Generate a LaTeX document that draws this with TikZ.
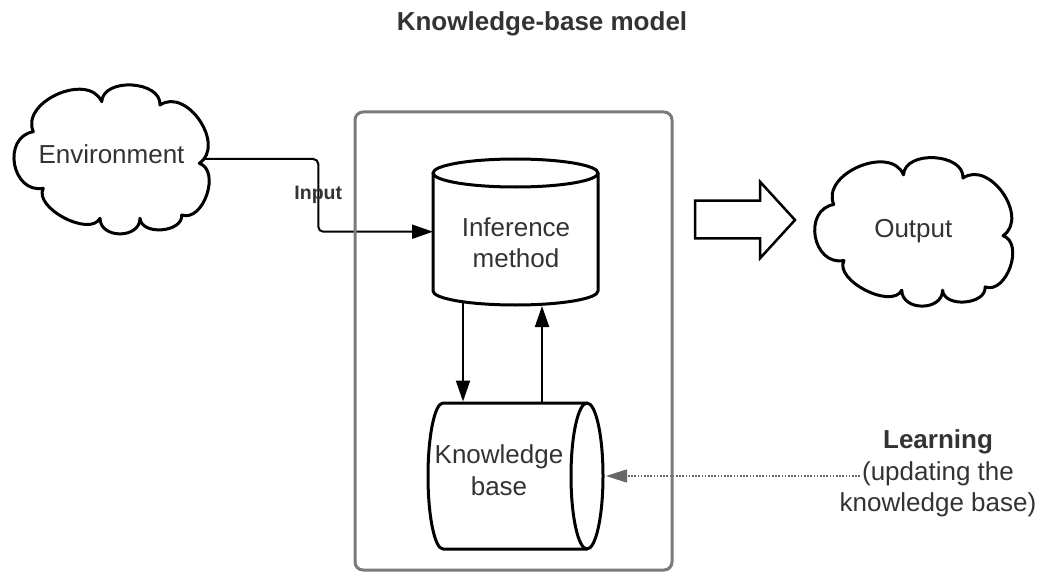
\documentclass[tikz,border=0pt]{standalone}
\usepackage{fontspec}
\setmainfont{Liberation Sans}
\usetikzlibrary{arrows.meta,calc}

\definecolor{inktext}{HTML}{333333}
\definecolor{framegray}{HTML}{7A7A7A}
\definecolor{learngray}{HTML}{666666}

% Cloud outline: #1 name prefix, (#2,#3) centre, #4/#5 horizontal/vertical scale.
% Eight cusps joined by outward bulging puffs.
\newcommand\cloudoutline[5]{%
  \coordinate (#1-1) at ({#2+#4*(-78.2)},{#3+#5*(-27.3)});
  \coordinate (#1-2) at ({#2+#4*(-68.2)},{#3+#5*(29.3)});
  \coordinate (#1-3) at ({#2+#4*(-11.5)},{#3+#5*(59.3)});
  \coordinate (#1-4) at ({#2+#4*(28.5)},{#3+#5*(59.3)});
  \coordinate (#1-5) at ({#2+#4*(70.2)},{#3+#5*(56)});
  \coordinate (#1-6) at ({#2+#4*(87.8)},{#3+#5*(4.3)});
  \coordinate (#1-7) at ({#2+#4*(48.5)},{#3+#5*(-54)});
  \coordinate (#1-8) at ({#2+#4*(-9.8)},{#3+#5*(-57.3)});
  \draw[outline] (#1-1)
    .. controls ($(#1-1)!0.56!-90:(#1-2)$) and ($(#1-2)!0.56!90:(#1-1)$) .. (#1-2)
    .. controls ($(#1-2)!0.34!-90:(#1-3)$) and ($(#1-3)!0.34!90:(#1-2)$) .. (#1-3)
    .. controls ($(#1-3)!0.52!-90:(#1-4)$) and ($(#1-4)!0.52!90:(#1-3)$) .. (#1-4)
    .. controls ($(#1-4)!0.42!-90:(#1-5)$) and ($(#1-5)!0.42!90:(#1-4)$) .. (#1-5)
    .. controls ($(#1-5)!0.42!-90:(#1-6)$) and ($(#1-6)!0.42!90:(#1-5)$) .. (#1-6)
    .. controls ($(#1-6)!0.46!-90:(#1-7)$) and ($(#1-7)!0.46!90:(#1-6)$) .. (#1-7)
    .. controls ($(#1-7)!0.42!-90:(#1-8)$) and ($(#1-8)!0.42!90:(#1-7)$) .. (#1-8)
    .. controls ($(#1-8)!0.44!-90:(#1-1)$) and ($(#1-1)!0.44!90:(#1-8)$) .. cycle;
}

\begin{document}
\begin{tikzpicture}[x=1pt,y=-1pt,
  outline/.style={draw=black, line width=3pt, fill=white, line join=round},
  labeltext/.style={text=inktext, font=\fontsize{26}{31.5}\selectfont, inner sep=0pt, align=center},
  boldlabel/.style={labeltext, font=\fontsize{26}{31.5}\selectfont\bfseries},
  smallbold/.style={labeltext, font=\fontsize{19.5}{23}\selectfont\bfseries},
  conn/.style={draw=black, line width=2pt, -{Triangle[length=21pt,width=14pt]}},
  learnline/.style={draw=learngray, line width=1.6pt, dash pattern=on 1.6pt off 1.6pt,
    -{Triangle[length=21pt,width=13pt,fill=learngray]}},
  framebox/.style={draw=framegray, line width=3pt, rounded corners=8pt,
    inner sep=0pt, minimum width=317pt, minimum height=458pt},
  blockarrow/.style={draw=black, line width=2.5pt, fill=white, line join=miter}
]
\useasboundingbox (0,0) rectangle (1043,572);

% title
\node[boldlabel, anchor=base] (title) at (542,31) {Knowledge-base model};

% clouds
\cloudoutline{envc}{111.5}{159}{1}{1}
\cloudoutline{outc}{913.5}{231.5}{1.02}{0.99}
\node[labeltext, minimum width=183pt, text height=19pt, text depth=10.4pt] (env) at (111.5,159) {Environment};
\node[labeltext, anchor=base] (out) at (913.3,237.3) {Output};

% inference method cylinder (vertical)
\draw[outline, fill=none] (433,173) -- (433,291)
  arc[start angle=180, end angle=0, x radius=82.5, y radius=14] -- (598,173);
\draw[outline] (515.5,173) ellipse [x radius=82.5, y radius=14];
\node[labeltext, anchor=base] (inf) at (516,267.5) {Inference\\method};

% knowledge base cylinder (horizontal)
\draw[outline, fill=none] (587,403) -- (443,403)
  arc[start angle=270, end angle=90, x radius=15, y radius=73] -- (587,549);
\draw[outline] (587,476) ellipse [x radius=16, y radius=73];
\node[labeltext, anchor=base] (kb) at (499,495) {Knowledge\\base};

% connector end points
\coordinate (input-bend) at (318.3,231.7);
\coordinate (inf-in) at (433,231.7);
\coordinate (inf-out) at (463,302);
\coordinate (kb-in) at (463,401.5);
\coordinate (kb-out) at (542,403);
\coordinate (inf-back) at (542,306);
\coordinate (learn-start) at (860,476);
\coordinate (kb-learn) at (606,476);

% input from the environment
\draw[conn, rounded corners=5pt] (env.east) -| (input-bend) -- (inf-in);
\node[smallbold, anchor=base] (inputlbl) at (318.3,200) {Input};

% inference <-> knowledge base
\draw[conn] (inf-out) -- (kb-in);
\draw[conn] (kb-out) -- (inf-back);

% learning
\node[labeltext, anchor=base] (learn) at (938,511.7) {\textbf{Learning}\\(updating the\\knowledge base)};
\draw[learnline] (learn-start) -- (kb-learn);

% output block arrow
\draw[blockarrow] (695,200.7) -- (760,200.7) -- (760,181.7) -- (795,220)
  -- (760,258.3) -- (760,238.3) -- (695,238.3) -- cycle;

% system frame
\node[framebox] (frame) at (513.5,341) {};
\end{tikzpicture}
\end{document}
